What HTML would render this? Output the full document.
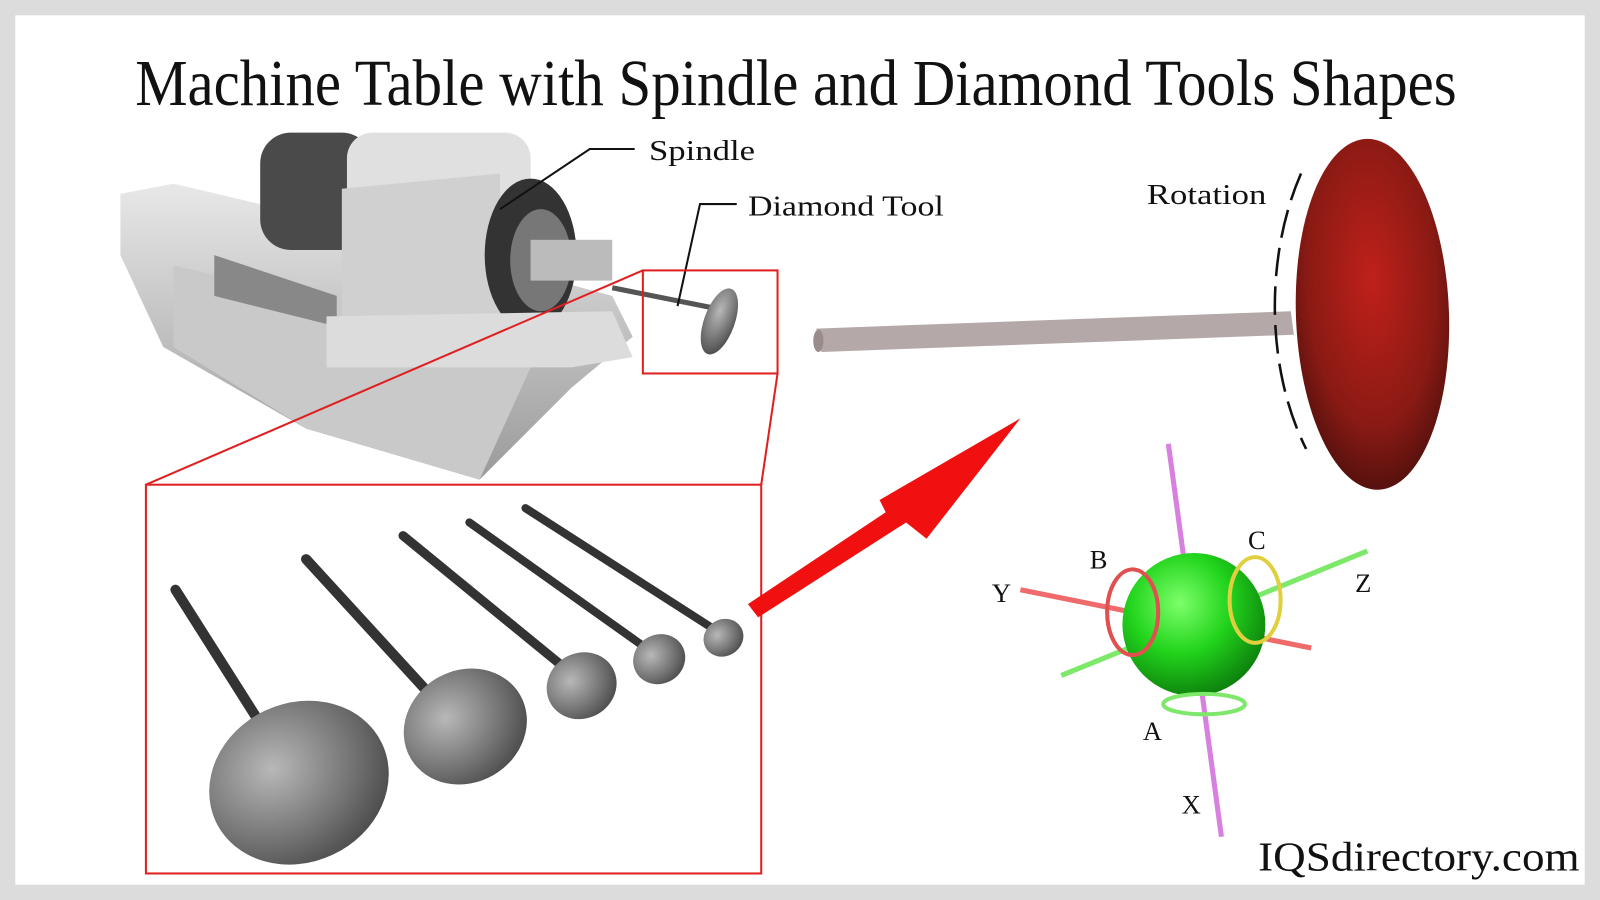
<!DOCTYPE html>
<html><head><style>
html,body{margin:0;padding:0;background:#dcdcdc;}
svg{display:block;}
</style></head><body>
<svg width="1600" height="900" viewBox="0 0 1568 882" preserveAspectRatio="none" xmlns="http://www.w3.org/2000/svg">
<defs>
<radialGradient id="gs" cx="0.4" cy="0.35" r="0.7"><stop offset="0" stop-color="#7dff6a"/><stop offset="0.5" stop-color="#22d41c"/><stop offset="1" stop-color="#0b7a0b"/></radialGradient>
<radialGradient id="rd" cx="0.5" cy="0.4" r="0.7"><stop offset="0" stop-color="#c0201a"/><stop offset="0.6" stop-color="#8a1a14"/><stop offset="1" stop-color="#3a0c0a"/></radialGradient>
<radialGradient id="mt" cx="0.4" cy="0.35" r="0.8"><stop offset="0" stop-color="#b8b8b8"/><stop offset="0.6" stop-color="#6e6e6e"/><stop offset="1" stop-color="#3a3a3a"/></radialGradient>
<linearGradient id="gy" x1="0" y1="0" x2="0" y2="1"><stop offset="0" stop-color="#e8e8e8"/><stop offset="1" stop-color="#9a9a9a"/></linearGradient>
</defs>
<rect x="15" y="15" width="1538" height="852" fill="#fff"/>
<text x="780" y="103" text-anchor="middle" font-family="Liberation Serif, serif" font-size="64" fill="#111" textLength="1295" lengthAdjust="spacingAndGlyphs">Machine Table with Spindle and Diamond Tools Shapes</text>

<polygon points="118,190 170,180 340,220 600,290 620,330 560,380 470,470 300,420 160,340 118,250" fill="url(#gy)"/>
<polygon points="170,260 470,330 520,360 470,470 300,420 170,340" fill="#c9c9c9"/>
<polygon points="210,250 330,290 330,320 210,290" fill="#888"/>
<rect x="255" y="130" width="110" height="115" rx="30" fill="#4a4a4a"/>
<rect x="340" y="130" width="180" height="170" rx="25" fill="#e0e0e0"/>
<polygon points="335,185 490,170 490,310 335,330" fill="#d0d0d0"/>
<ellipse cx="520" cy="250" rx="45" ry="75" fill="#333"/>
<ellipse cx="530" cy="255" rx="30" ry="50" fill="#777"/>
<rect x="520" y="235" width="80" height="40" fill="#bbb"/>
<polygon points="320,310 600,305 620,350 560,360 320,360" fill="#dcdcdc"/>
<line x1="600" y1="282" x2="700" y2="302" stroke="#555" stroke-width="5"/>
<ellipse cx="705" cy="315" rx="15" ry="34" transform="rotate(20 705 315)" fill="url(#mt)"/>

<polyline points="622,146 578,146 490,205" fill="none" stroke="#111" stroke-width="2"/>
<text x="636" y="157" font-family="Liberation Serif, serif" font-size="28" fill="#111" textLength="104" lengthAdjust="spacingAndGlyphs">Spindle</text>
<polyline points="722,200 686,200 664,300" fill="none" stroke="#111" stroke-width="2"/>
<text x="733" y="211" font-family="Liberation Serif, serif" font-size="28" fill="#111" textLength="192" lengthAdjust="spacingAndGlyphs">Diamond Tool</text>

<rect x="630" y="265" width="132" height="101" fill="none" stroke="#e02020" stroke-width="2"/>
<rect x="143" y="475" width="603" height="381" fill="none" stroke="#e02020" stroke-width="2"/>
<line x1="630" y1="265" x2="143" y2="475" stroke="#e02020" stroke-width="2"/>
<line x1="762" y1="366" x2="746" y2="475" stroke="#e02020" stroke-width="2"/>

<g stroke="#333" stroke-linecap="round">
<line x1="172" y1="578" x2="262" y2="720" stroke-width="10"/>
<line x1="300" y1="548" x2="430" y2="690" stroke-width="10"/>
<line x1="395" y1="525" x2="560" y2="660" stroke-width="9"/>
<line x1="460" y1="512" x2="640" y2="640" stroke-width="8"/>
<line x1="515" y1="498" x2="705" y2="620" stroke-width="8"/>
</g>
<ellipse cx="293" cy="767" rx="90" ry="78" transform="rotate(-25 293 767)" fill="url(#mt)"/>
<ellipse cx="456" cy="712" rx="62" ry="55" transform="rotate(-30 456 712)" fill="url(#mt)"/>
<ellipse cx="570" cy="672" rx="35" ry="32" transform="rotate(-30 570 672)" fill="url(#mt)"/>
<ellipse cx="646" cy="646" rx="26" ry="24" transform="rotate(-30 646 646)" fill="url(#mt)"/>
<ellipse cx="709" cy="625" rx="20" ry="18" transform="rotate(-30 709 625)" fill="url(#mt)"/>

<polygon points="733,592 868,502 862,490 1000,410 908,528 888,512 743,605" fill="#f01010"/>

<polygon points="800,322 1265,305 1268,328 805,345" fill="#b5a8a8"/>
<ellipse cx="802" cy="334" rx="5" ry="11" fill="#9a8c8c"/>
<ellipse cx="1345" cy="308" rx="75" ry="172" transform="rotate(-2 1345 308)" fill="url(#rd)"/>
<path d="M1275,170 C1240,250 1240,360 1280,440" fill="none" stroke="#111" stroke-width="2.5" stroke-dasharray="28,10"/>
<text x="1124" y="200" font-family="Liberation Serif, serif" font-size="28" fill="#111" textLength="117" lengthAdjust="spacingAndGlyphs">Rotation</text>

<line x1="1145" y1="435" x2="1197" y2="820" stroke="#d880e0" stroke-width="5"/>
<line x1="1000" y1="578" x2="1285" y2="635" stroke="#ef6a6a" stroke-width="5"/>
<line x1="1040" y1="662" x2="1340" y2="540" stroke="#7de86a" stroke-width="5"/>
<circle cx="1170" cy="612" r="70" fill="url(#gs)"/>
<ellipse cx="1110" cy="600" rx="25" ry="42" fill="none" stroke="#e05050" stroke-width="4"/>
<ellipse cx="1230" cy="588" rx="25" ry="42" fill="none" stroke="#e0d040" stroke-width="4"/>
<ellipse cx="1180" cy="690" rx="40" ry="10" fill="none" stroke="#7de86a" stroke-width="4"/>
<g font-family="Liberation Serif, serif" font-size="26" fill="#111">
<text x="1068" y="557">B</text><text x="1223" y="538">C</text>
<text x="972" y="590">Y</text><text x="1328" y="580">Z</text>
<text x="1120" y="725">A</text><text x="1158" y="797">X</text>
</g>
<text x="1233" y="853" font-family="Liberation Serif, serif" font-size="40" fill="#111" textLength="315" lengthAdjust="spacingAndGlyphs">IQSdirectory.com</text>
</svg>
</body></html>
